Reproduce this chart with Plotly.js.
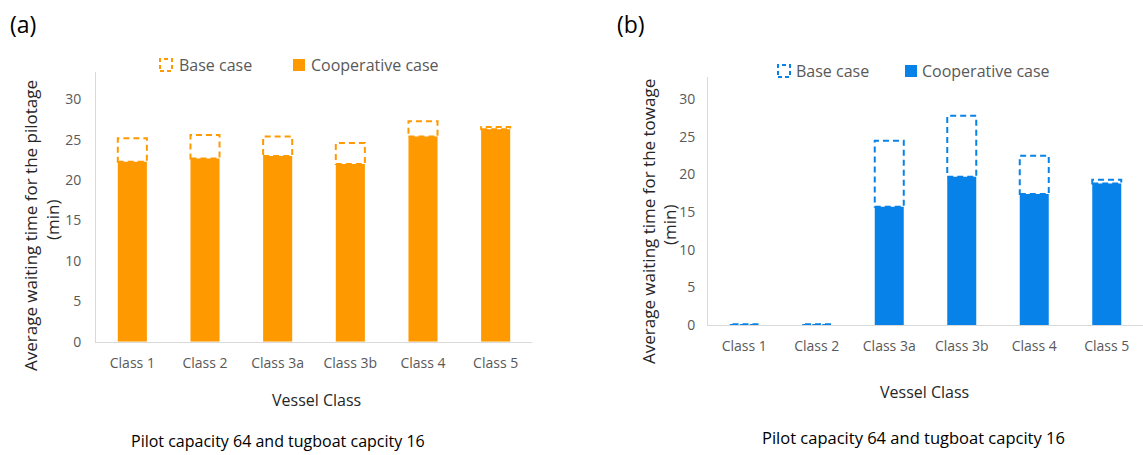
<!DOCTYPE html>
<html>
<head>
<meta charset="utf-8">
<script src="https://cdn.plot.ly/plotly-3.0.1.min.js"></script>
<style>html,body{margin:0;padding:0;background:#fff;}#chart{width:1143px;height:455px;}</style>
</head>
<body>
<div id="chart"></div>
<script>
// ---- data ----
const categories = ["Class 1", "Class 2", "Class 3a", "Class 3b", "Class 4", "Class 5"];
const pilotBase = [25.2, 25.6, 25.4, 24.6, 27.3, 26.6];
const pilotCoop = [22.3, 22.7, 23.0, 22.0, 25.4, 26.3];
const towBase = [0.1, 0.1, 24.5, 27.8, 22.5, 19.3];
const towCoop = [0, 0, 15.7, 19.7, 17.4, 18.8];
const yTicks = [0, 5, 10, 15, 20, 25, 30];

const W = 1143, H = 455;
const px = x => x / W;
const py = y => 1 - y / H;
const ORANGE = "#FF9900";
const BLUE = "#0782E8";
const FONT = "Open Sans";
const idx = categories.map((_, i) => i);
const BW = 0.4;

const traces = [
  {type: "bar", x: idx, y: pilotCoop, width: BW, marker: {color: ORANGE}, xaxis: "x", yaxis: "y", name: "Cooperative case", showlegend: false},
  {type: "bar", x: idx, y: towCoop, width: BW, marker: {color: BLUE}, xaxis: "x2", yaxis: "y2", name: "Cooperative case", showlegend: false}
];

const shapes = [];
function baseBoxes(base, coop, color, xr, yr) {
  base.forEach((b, i) => {
    shapes.push({type: "rect", xref: xr, yref: yr, x0: idx[i] - BW / 2, x1: idx[i] + BW / 2,
      y0: coop[i], y1: b, line: {color: color, width: 2, dash: "6px,4px"}, fillcolor: "rgba(0,0,0,0)", layer: "above"});
  });
}
baseBoxes(pilotBase, pilotCoop, ORANGE, "x", "y");
baseBoxes(towBase, towCoop, BLUE, "x2", "y2");

// legend icons
function legendIcons(bx0, by0, cx0, cy0, s, color) {
  shapes.push({type: "rect", xref: "paper", yref: "paper", x0: px(bx0), x1: px(bx0 + s), y0: py(by0 + s), y1: py(by0),
    line: {color: color, width: 2, dash: "4px,3px"}, fillcolor: "rgba(0,0,0,0)"});
  shapes.push({type: "rect", xref: "paper", yref: "paper", x0: px(cx0), x1: px(cx0 + s), y0: py(cy0 + s), y1: py(cy0),
    line: {width: 0}, fillcolor: color});
}
legendIcons(160, 59, 293, 59, 12, ORANGE);
legendIcons(778, 65, 905, 65, 12, BLUE);

const gray = "#595959";
function ann(text, x, y, size, color, opts) {
  return Object.assign({text: text, xref: "paper", yref: "paper", x: px(x), y: py(y), showarrow: false,
    xanchor: "center", yanchor: "middle", font: {family: FONT, size: size, color: color}}, opts || {});
}
const annotations = [
  ann("(a)", 23, 24, 23, "#000"),
  ann("(b)", 631, 24, 23, "#000"),
  ann("Base case", 177, 65, 16, gray, {xanchor: "left"}),
  ann("Cooperative case", 309, 65, 16, gray, {xanchor: "left"}),
  ann("Base case", 794, 71, 16, gray, {xanchor: "left"}),
  ann("Cooperative case", 920, 71, 16, gray, {xanchor: "left"}),
  ann("Average waiting time for the pilotage", 30, 226, 17, "#262626", {textangle: -90}),
  ann("(min)", 52, 220, 17, "#262626", {textangle: -90}),
  ann("Average waiting time for the towage", 648, 222, 17, "#262626", {textangle: -90}),
  ann("(min)", 669, 225, 17, "#262626", {textangle: -90}),
  ann("Vessel Class", 316, 400, 16, "#262626"),
  ann("Vessel Class", 924, 392, 16, "#262626"),
  ann("Pilot capacity 64 and tugboat capcity 16", 278, 441, 16, "#000"),
  ann("Pilot capacity 64 and tugboat capcity 16", 913, 437, 16.5, "#000")
];

const xCommon = {tickvals: idx, ticktext: categories, range: [-0.5, 5.5], showline: true, linecolor: "#D9D9D9", linewidth: 1,
  showgrid: false, zeroline: false, ticks: "", ticklabelstandoff: 8, tickfont: {family: FONT, size: 14, color: gray}, fixedrange: true};
const yCommon = {tickvals: yTicks, showline: true, linecolor: "#D9D9D9", linewidth: 1, showgrid: false, zeroline: false, ticks: "",
  ticklabelstandoff: 11, tickfont: {family: FONT, size: 14, color: gray}, fixedrange: true};

const layout = {
  width: W, height: H, margin: {l: 0, r: 0, t: 0, b: 0}, paper_bgcolor: "#fff", plot_bgcolor: "#fff",
  barmode: "overlay", showlegend: false,
  font: {family: FONT},
  xaxis: Object.assign({}, xCommon, {domain: [px(96), px(532)], anchor: "y"}),
  yaxis: Object.assign({}, yCommon, {domain: [py(341.7), py(72)], range: [0, 33.4], anchor: "x"}),
  xaxis2: Object.assign({}, xCommon, {domain: [px(708), 1], anchor: "y2"}),
  yaxis2: Object.assign({}, yCommon, {domain: [py(325), py(76.7)], range: [0, 33.0], anchor: "x2", ticklabelstandoff: 9}),
  shapes: shapes,
  annotations: annotations
};

Plotly.newPlot("chart", traces, layout, {displayModeBar: false, staticPlot: true});
</script>
</body>
</html>
